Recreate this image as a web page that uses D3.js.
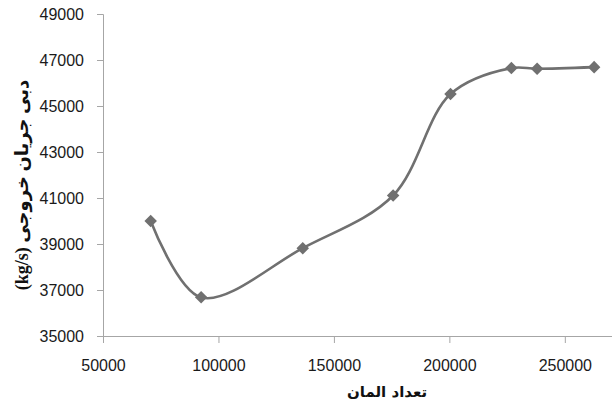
<!DOCTYPE html>
<html><head><meta charset="utf-8">
<script src="https://cdn.jsdelivr.net/npm/d3@7"></script>
<style>body{margin:0;background:#fff}svg{display:block}</style>
</head><body>
<svg id="c" width="612" height="407"></svg>
<script>
const xValues = [70650, 92500, 136500, 175650, 200500, 226850, 238000, 262700];
const yValues = [40000, 36680, 38820, 41110, 45520, 46650, 46620, 46690];
const yTicks = [35000, 37000, 39000, 41000, 43000, 45000, 47000, 49000];
const xTicks = [50000, 100000, 150000, 200000, 250000];
const xTitle = "تعداد المان";
const yTitle = "دبی جریان خروجی (kg/s)";

const svg = d3.select("#c");
const x = d3.scaleLinear().domain([50000, 270000]).range([103, 611]);
const y = d3.scaleLinear().domain([35000, 49000]).range([336, 14]);
const axisColor = "#a6a6a6";
const lineColor = "#707070";
const tickFont = "'Liberation Sans', Arial, sans-serif";

const gx = svg.append("g").attr("transform", `translate(0,${y(35000)})`)
  .call(d3.axisBottom(x).tickValues(xTicks).tickSize(7).tickPadding(17).tickFormat(d3.format("d")));
const gy = svg.append("g").attr("transform", `translate(${x(50000)},0)`)
  .call(d3.axisLeft(y).tickValues(yTicks).tickSize(6).tickPadding(13).tickFormat(d3.format("d")));
[gx, gy].forEach(g => {
  g.select(".domain").attr("stroke", axisColor).attr("stroke-width", 1);
  g.selectAll(".tick line").attr("stroke", axisColor);
  g.selectAll(".tick text").attr("fill", "#1a1a1a").style("font-family", tickFont).style("font-size", "16px");
});
gx.select(".domain").attr("d", `M${x(50000)},0.5H612`);

const data = xValues.map((v, i) => [v, yValues[i]]);
const line = d3.line().x(d => x(d[0])).y(d => y(d[1])).curve(d3.curveCatmullRom.alpha(0.5));
svg.append("path").attr("d", line(data)).attr("fill", "none")
  .attr("stroke", lineColor).attr("stroke-width", 2.6);

svg.selectAll(".pt").data(data).join("path").attr("class", "pt")
  .attr("transform", d => `translate(${x(d[0])},${y(d[1])})`)
  .attr("d", d3.symbol().type(d3.symbolDiamond2).size(100))
  .attr("fill", lineColor);

svg.append("text").attr("x", 387).attr("y", 397).attr("text-anchor", "middle")
  .style("font-family", "'DejaVu Sans', sans-serif").style("font-weight", "bold").style("font-size", "15px")
  .attr("fill", "#111").attr("direction", "rtl").text(xTitle);

svg.append("text").attr("transform", "translate(28,185) rotate(-90)").attr("text-anchor", "middle")
  .style("font-family", "'Liberation Serif', 'DejaVu Sans', serif").style("font-weight", "bold").style("font-size", "18px")
  .attr("fill", "#111").attr("direction", "rtl").text(yTitle);
</script>
</body></html>
